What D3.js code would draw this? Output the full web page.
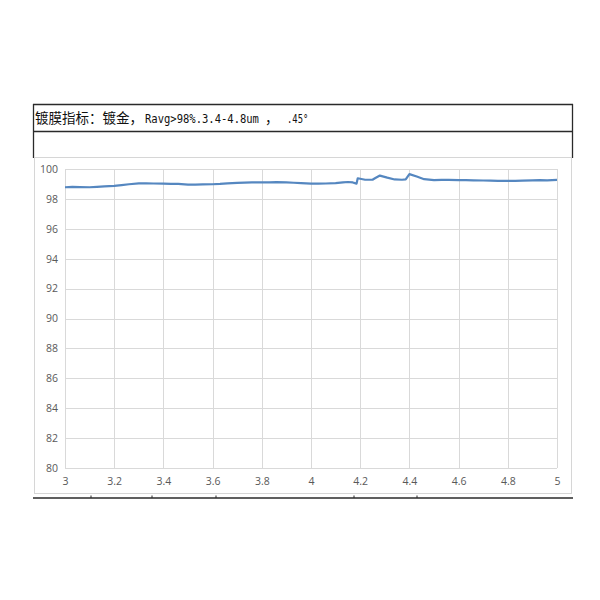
<!DOCTYPE html>
<html><head><meta charset="utf-8">
<script src="https://cdn.jsdelivr.net/npm/d3@7"></script>
<style>html,body{margin:0;padding:0;background:#fff;}</style>
</head><body>
<svg id="c" width="600" height="600"></svg>
<script>
const titleParts = ["镀膜指标：镀金，", "Ravg>98%.3.4-4.8um", "，", ".45°"];
const xTicks = [3, 3.2, 3.4, 3.6, 3.8, 4, 4.2, 4.4, 4.6, 4.8, 5];
const yTicks = [80, 82, 84, 86, 88, 90, 92, 94, 96, 98, 100];
const wavelength = [3.00, 3.03, 3.06, 3.10, 3.13, 3.16, 3.20, 3.23, 3.26, 3.30, 3.33, 3.36, 3.40, 3.43, 3.46, 3.50, 3.53, 3.56, 3.60, 3.63, 3.66, 3.70, 3.73, 3.76, 3.80, 3.83, 3.86, 3.90, 3.93, 3.96, 4.00, 4.03, 4.06, 4.10, 4.13, 4.15, 4.17, 4.185, 4.19, 4.22, 4.25, 4.26, 4.28, 4.31, 4.34, 4.37, 4.385, 4.40, 4.43, 4.46, 4.50, 4.53, 4.56, 4.60, 4.63, 4.66, 4.70, 4.73, 4.76, 4.80, 4.83, 4.86, 4.90, 4.93, 4.96, 5.00];
const reflectance = [98.78, 98.80, 98.79, 98.78, 98.81, 98.84, 98.87, 98.92, 98.98, 99.04, 99.04, 99.03, 99.02, 99.01, 99.00, 98.96, 98.95, 98.97, 98.98, 99.00, 99.04, 99.07, 99.09, 99.10, 99.10, 99.11, 99.12, 99.10, 99.08, 99.05, 99.02, 99.02, 99.03, 99.06, 99.10, 99.13, 99.10, 99.02, 99.38, 99.28, 99.28, 99.38, 99.56, 99.42, 99.30, 99.28, 99.30, 99.66, 99.50, 99.32, 99.26, 99.27, 99.27, 99.25, 99.25, 99.24, 99.23, 99.22, 99.21, 99.20, 99.21, 99.22, 99.24, 99.25, 99.24, 99.27];

const svg = d3.select("#c");
const m = {left: 65, right: 557, top: 169, bottom: 468};
const x = d3.scaleLinear().domain([3, 5]).range([m.left, m.right]);
const y = d3.scaleLinear().domain([80, 100]).range([m.bottom, m.top]);

// table frame
const dark = "#2a2a2a";
svg.append("line").attr("x1", 33).attr("x2", 573).attr("y1", 104.5).attr("y2", 104.5).attr("stroke", dark).attr("stroke-width", 1.3);
svg.append("line").attr("x1", 33).attr("x2", 573).attr("y1", 131.5).attr("y2", 131.5).attr("stroke", dark).attr("stroke-width", 1.3);
svg.append("line").attr("x1", 33.5).attr("x2", 33.5).attr("y1", 104).attr("y2", 158).attr("stroke", dark).attr("stroke-width", 1.3);
svg.append("line").attr("x1", 572.5).attr("x2", 572.5).attr("y1", 104).attr("y2", 158).attr("stroke", dark).attr("stroke-width", 1.3);

// title cell: CJK parts in Noto Sans CJK, half-width ASCII parts horizontally condensed
const partX = [35, 145, 265, 287];
const partScale = [1, 0.81, 1, 0.68];
titleParts.forEach((t, i) => {
  const mono = (i === 1 || i === 3);
  svg.append("text")
    .attr("transform", `translate(${partX[i]},123) scale(${partScale[i]},1)`)
    .attr("fill", "#111")
    .attr("font-family", mono ? "'DejaVu Sans Mono', monospace" : "'Noto Sans CJK SC', sans-serif")
    .attr("font-size", mono ? 13 : 13.5)
    .text(t);
});

// chart frame
svg.append("rect").attr("x", 34.5).attr("y", 157.5).attr("width", 537).attr("height", 336)
  .attr("fill", "none").attr("stroke", "#d6d6d6").attr("stroke-width", 1);
// bottom border with small column marks
svg.append("line").attr("x1", 33).attr("x2", 573).attr("y1", 498).attr("y2", 498).attr("stroke", dark).attr("stroke-width", 1.3);
[91, 152, 216, 354, 417].forEach(px => {
  svg.append("line").attr("x1", px).attr("x2", px).attr("y1", 495.5).attr("y2", 498).attr("stroke", dark).attr("stroke-width", 1);
});

// grid
const grid = svg.append("g");
grid.selectAll(".h").data(yTicks).enter().append("line")
  .attr("x1", m.left).attr("x2", m.right)
  .attr("y1", d => Math.round(y(d)) + 0.5).attr("y2", d => Math.round(y(d)) + 0.5)
  .attr("stroke", "#d9d9d9").attr("stroke-width", 1);
grid.selectAll(".v").data(xTicks).enter().append("line")
  .attr("x1", d => Math.round(x(d)) + 0.5).attr("x2", d => Math.round(x(d)) + 0.5)
  .attr("y1", m.top).attr("y2", m.bottom)
  .attr("stroke", "#d9d9d9").attr("stroke-width", 1);

// axes (labels only)
const yAxis = svg.append("g").attr("transform", `translate(${m.left - 7},0)`)
  .call(d3.axisLeft(y).tickValues(yTicks).tickSize(0).tickPadding(0).tickFormat(d3.format("d")));
const xAxis = svg.append("g").attr("transform", `translate(0,${m.bottom + 9})`)
  .call(d3.axisBottom(x).tickValues(xTicks).tickSize(0).tickPadding(0).tickFormat(d => String(d)));
[yAxis, xAxis].forEach(a => {
  a.select(".domain").remove();
  a.selectAll("text").attr("font-family", "'Open Sans', 'DejaVu Sans', sans-serif").attr("font-size", 10.5).attr("fill", "#595959");
});
xAxis.selectAll("text").attr("dy", "0.75em");

// data line
const pts = wavelength.map((w, i) => [w, reflectance[i]]);
svg.append("path").datum(pts)
  .attr("fill", "none").attr("stroke", "#5587c0").attr("stroke-width", 2.2).attr("stroke-linejoin", "round")
  .attr("d", d3.line().x(d => x(d[0])).y(d => y(d[1])));
</script>
</body></html>
